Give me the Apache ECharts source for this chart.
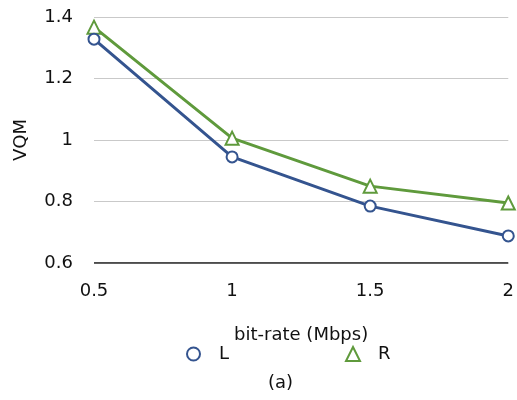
<!DOCTYPE html>
<html><head><meta charset="utf-8">
<script src="https://cdn.jsdelivr.net/npm/echarts@6/dist/echarts.min.js"></script>
<style>html,body{margin:0;padding:0;background:#fff}#c{width:517px;height:400px}</style>
</head><body><div id="c"></div>
<script>
const bitRates = [0.5, 1, 1.5, 2];
const seriesL = [1.328, 0.945, 0.785, 0.688];
const seriesR = [1.367, 1.006, 0.850, 0.795];
const yTicks = [0.6, 0.8, 1.0, 1.2, 1.4];
const xTicks = [0.5, 1, 1.5, 2];

const FONT = 'DejaVu Sans, Liberation Sans, Arial, sans-serif';
const FS = 18;
const BLUE = '#34548f';
const GREEN = '#5f9a3c';

const chart = echarts.init(document.getElementById('c'), null, {renderer: 'canvas'});
chart.setOption({
  animation: false,
  textStyle: {fontFamily: FONT},
  grid: {left: 94, right: 5, top: 17, bottom: 137, containLabel: false},
  xAxis: {
    type: 'value', min: xTicks[0], max: xTicks[xTicks.length-1], interval: 0.5,
    name: 'bit-rate (Mbps)', nameLocation: 'middle', nameGap: 63,
    nameTextStyle: {fontSize: FS, color: '#111', fontFamily: FONT},
    axisLine: {show: false}, axisTick: {show: false}, splitLine: {show: false},
    axisLabel: {fontSize: FS, color: '#111', margin: 19, fontFamily: FONT,
      formatter: v => String(v)}
  },
  yAxis: {
    type: 'value', min: yTicks[0], max: yTicks[yTicks.length-1], interval: 0.2,
    name: 'VQM', nameLocation: 'middle', nameGap: 64, nameRotate: 90,
    nameTextStyle: {fontSize: FS, color: '#111', fontFamily: FONT},
    axisLine: {show: false}, axisTick: {show: false},
    splitLine: {lineStyle: {color: '#c9c9c9', width: 1.2}},
    axisLabel: {fontSize: FS, color: '#111', margin: 21, fontFamily: FONT,
      formatter: v => String(+v.toFixed(1))}
  },
  legend: [
    {data: [{name: 'L', icon: 'emptyCircle'}], left: 181, top: 340, itemWidth: 13, itemHeight: 13,
     textStyle: {fontSize: FS, color: '#111', fontFamily: FONT, padding: [0,0,0,14]}},
    {data: [{name: 'R', icon: 'emptyTriangle'}], left: 340, top: 340, itemWidth: 14, itemHeight: 14,
     textStyle: {fontSize: FS, color: '#111', fontFamily: FONT, padding: [0,0,0,13]}}
  ],
  title: {text: '(a)', left: 263, top: 369, textStyle: {fontSize: FS, fontWeight: 'normal', color: '#111', fontFamily: FONT}},
  series: [
    {name: 'L', type: 'line', data: bitRates.map((x,i)=>[x, seriesL[i]]),
     symbol: 'emptyCircle', symbolSize: 11, color: BLUE,
     lineStyle: {width: 3, color: BLUE}, itemStyle: {color: BLUE, borderWidth: 3, borderColor: BLUE}, z: 3},
    {name: 'R', type: 'line', data: bitRates.map((x,i)=>[x, seriesR[i]]),
     symbol: 'emptyTriangle', symbolSize: 13, color: GREEN,
     lineStyle: {width: 3, color: GREEN}, itemStyle: {color: GREEN, borderWidth: 3, borderColor: GREEN}, z: 2},
    {type: 'line', data: [[0.5, 0.6],[2, 0.6]], symbol: 'none', silent: true,
     lineStyle: {color: '#111', width: 1.5}, z: 1, legendHoverLink: false}
  ]
});
</script></body></html>
